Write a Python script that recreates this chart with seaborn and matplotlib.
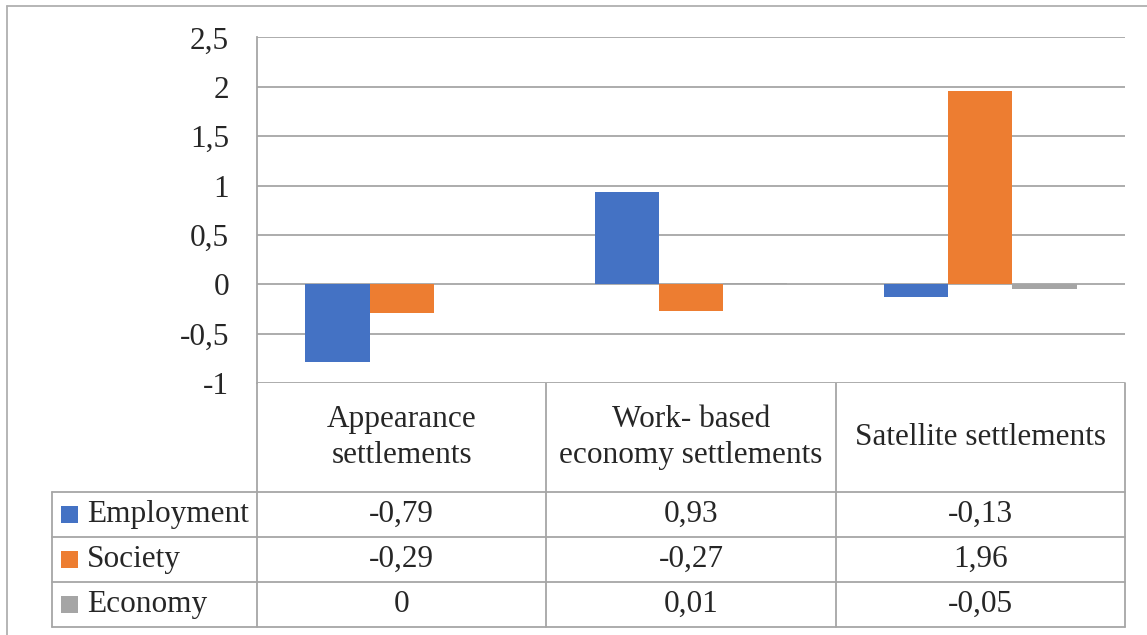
import pandas as pd
import matplotlib.pyplot as plt
import seaborn as sns
from matplotlib.transforms import blended_transform_factory

# data
categories = ['Appearance\nsettlements', 'Work- based\neconomy settlements', 'Satellite settlements']
series = ['Employment', 'Society', 'Economy']
employment = [-0.79, 0.93, -0.13]
society = [-0.29, -0.27, 1.96]
economy = [0.0, 0.01, -0.05]
colors = ['#4472C4', '#ED7D31', '#A5A5A5']
yticks = [-1, -0.5, 0, 0.5, 1, 1.5, 2, 2.5]

values = {'Employment': employment, 'Society': society, 'Economy': economy}
df = pd.DataFrame([
    {'category': c, 'series': s, 'value': values[s][i]}
    for s in series for i, c in enumerate(categories)
])

sns.set_theme(style='white')
plt.rcParams['font.family'] = ['Liberation Serif', 'DejaVu Serif']
FS = 22.5
GRID = '#a6a6a6'

W, H = 1147, 635
fig = plt.figure(figsize=(W / 100, H / 100), dpi=100)

# overlay in pixel coords for frame and table
ov = fig.add_axes([0, 0, 1, 1])
ov.set_xlim(0, W)
ov.set_ylim(H, 0)
ov.axis('off')

left, right, top, bottom = 257, 1125, 37.5, 383
ax = fig.add_axes([left / W, (H - bottom) / H, (right - left) / W, (bottom - top) / H])

sns.barplot(data=df, x='category', y='value', hue='series', order=categories,
            hue_order=series, palette=colors, saturation=1, width=2 / 3,
            linewidth=0, legend=False, ax=ax)

ax.set_ylim(-1, 2.5)
ax.set_xlim(-0.5, len(categories) - 0.5)
ax.set_yticks(yticks)
ax.set_yticklabels([('%g' % v).replace('.', ',') for v in yticks], fontsize=FS)
ax.tick_params(axis='y', length=0, pad=20)
ax.set_xticks([])
ax.set_xlabel('')
ax.set_ylabel('')
for v in yticks:
    ax.axhline(v, color=GRID, lw=1.3, zorder=0)
for s in ['top', 'right', 'bottom']:
    ax.spines[s].set_visible(False)
ax.spines['left'].set_color(GRID)
ax.spines['left'].set_linewidth(1.3)

# outer chart frame (cut at right/bottom)
ov.plot([7, 7], [6, H], color='#b0b0b0', lw=1.3)
ov.plot([7, W], [6, 6], color='#b0b0b0', lw=1.3)

# data table below the plot
tr = blended_transform_factory(ax.transData, ov.transData)
hdr_bot, row_h, leg_left = 492, 45, 52
rows_y = [hdr_bot + i * row_h for i in range(len(series) + 1)]
n = len(categories)
for x in [i - 0.5 for i in range(n + 1)]:
    ov.plot([x, x], [bottom, rows_y[-1]], color=GRID, lw=1.3, transform=tr)
for y in rows_y:
    ov.plot([leg_left, right], [y, y], color=GRID, lw=1.3)
ov.plot([leg_left, leg_left], [hdr_bot, rows_y[-1]], color=GRID, lw=1.3)

for i, c in enumerate(categories):
    ov.text(i, (bottom + hdr_bot) / 2, c, ha='center', va='center',
            fontsize=FS, linespacing=1.3, transform=tr)

for r, s in enumerate(series):
    yc = rows_y[r] + row_h / 2
    ov.add_patch(plt.Rectangle((61, yc - 8.5), 17, 17, color=colors[r], lw=0))
    ov.text(87, yc, s, ha='left', va='center', fontsize=FS)
    for i, v in enumerate(values[s]):
        ov.text(i, yc, ('%g' % v).replace('.', ','), ha='center', va='center',
                fontsize=FS, transform=tr)

fig.savefig('out.png', dpi=100)
